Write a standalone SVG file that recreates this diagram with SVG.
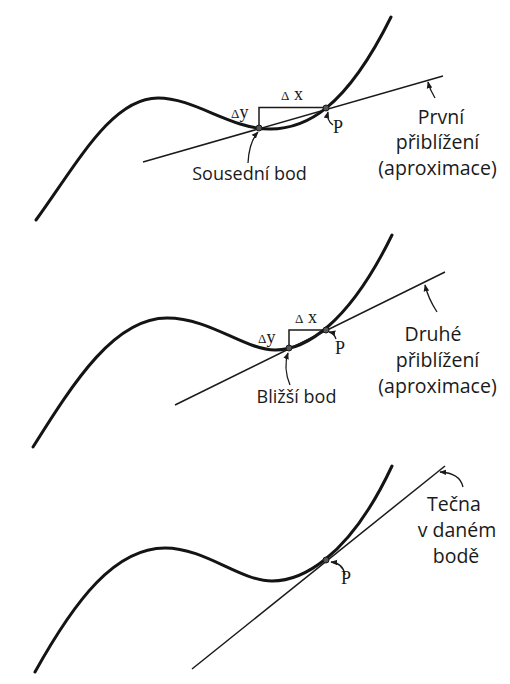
<svg xmlns="http://www.w3.org/2000/svg" width="510" height="684" viewBox="0 0 510 684">
<defs>
<marker id="ah" viewBox="0 0 10 10" refX="9" refY="5" markerWidth="7" markerHeight="7" markerUnits="userSpaceOnUse" orient="auto">
<path d="M0,1 L10,5 L0,9 Z" fill="#1a1a1a"/>
</marker>
<style>
.curve{fill:none;stroke:#141414;stroke-width:3;stroke-linecap:round}
.line{fill:none;stroke:#1a1a1a;stroke-width:1.5}
.tri{fill:none;stroke:#1a1a1a;stroke-width:1.5}
.arr{fill:none;stroke:#1a1a1a;stroke-width:1.3;marker-end:url(#ah)}
.pt{fill:#555;stroke:#1a1a1a;stroke-width:1}
.lab{font-family:"Open Sans","Liberation Sans",sans-serif;font-size:19.5px;fill:#1a1a1a;text-anchor:middle}
.sm{font-family:"Open Sans","Liberation Sans",sans-serif;font-size:18px;fill:#1a1a1a;text-anchor:middle}
.ser{font-family:"Liberation Serif","DejaVu Serif",serif;font-size:18px;fill:#1a1a1a}
.d{font-size:13px}
</style>
</defs>
<rect width="510" height="684" fill="#ffffff"/>

<g id="panel1">
<path class="curve" d="M36,220 C78,162 112,98 158,98 C195,98 230,129 270,129 C305,129 345,110 391,17"/>
<line class="line" x1="143" y1="162" x2="443" y2="76"/>
<path class="tri" d="M259,128 L259,107.5 L326,107.5"/>
<circle class="pt" cx="259" cy="128" r="3"/>
<circle class="pt" cx="326" cy="108" r="3"/>
<text class="ser" x="231" y="118"><tspan class="d">Δ</tspan>y</text>
<text class="ser" x="281" y="100"><tspan class="d">Δ</tspan> x</text>
<text class="ser" x="333" y="133">P</text>
<text class="sm" x="249.5" y="180">Sousední bod</text>
<text class="lab" x="441" y="124">První</text>
<text class="lab" x="437.5" y="149">přiblížení</text>
<text class="lab" x="437.5" y="175">(aproximace)</text>
</g>

<g id="panel2">
<path class="curve" d="M33,447 C75,380 115,318 167,318 C210,318 245,350 275,350 C305,350 348,325 392,235"/>
<line class="line" x1="175" y1="405" x2="445" y2="272"/>
<path class="tri" d="M289,348 L289,330 L326,330"/>
<circle class="pt" cx="289" cy="348" r="3"/>
<circle class="pt" cx="326" cy="330" r="3"/>
<text class="ser" x="258" y="343"><tspan class="d">Δ</tspan>y</text>
<text class="ser" x="295" y="323"><tspan class="d">Δ</tspan> x</text>
<text class="ser" x="335" y="354">P</text>
<text class="sm" x="296.5" y="403">Bližší bod</text>
<text class="lab" x="433" y="341">Druhé</text>
<text class="lab" x="437.5" y="367">přiblížení</text>
<text class="lab" x="437.5" y="393">(aproximace)</text>
</g>

<g id="panel3">
<path class="curve" d="M35,672 C75,600 115,548 165,548 C205,548 240,581 272,581 C300,581 348,560 392,466"/>
<line class="line" x1="192" y1="669" x2="445" y2="466"/>
<circle class="pt" cx="326" cy="560" r="3"/>
<text class="ser" x="341" y="584">P</text>
<text class="lab" x="454" y="511">Tečna</text>
<text class="lab" x="457" y="537">v daném</text>
<text class="lab" x="456" y="563">bodě</text>
</g>

<g id="connectors">
<path class="arr" d="M248,163 Q249,142 258,132"/>
<path class="arr" d="M333,125 Q326,120 328,112"/>
<path class="arr" d="M435,98 Q430,90 428,82"/>
<path class="arr" d="M290,385 Q283,368 288,353"/>
<path class="arr" d="M336,339 Q334,333 329,332"/>
<path class="arr" d="M437,312 Q428,298 425,285"/>
<path class="arr" d="M345,575 Q343,563 331,562"/>
<path class="arr" d="M463,487 Q460,473 440,472"/>
</g>
</svg>
